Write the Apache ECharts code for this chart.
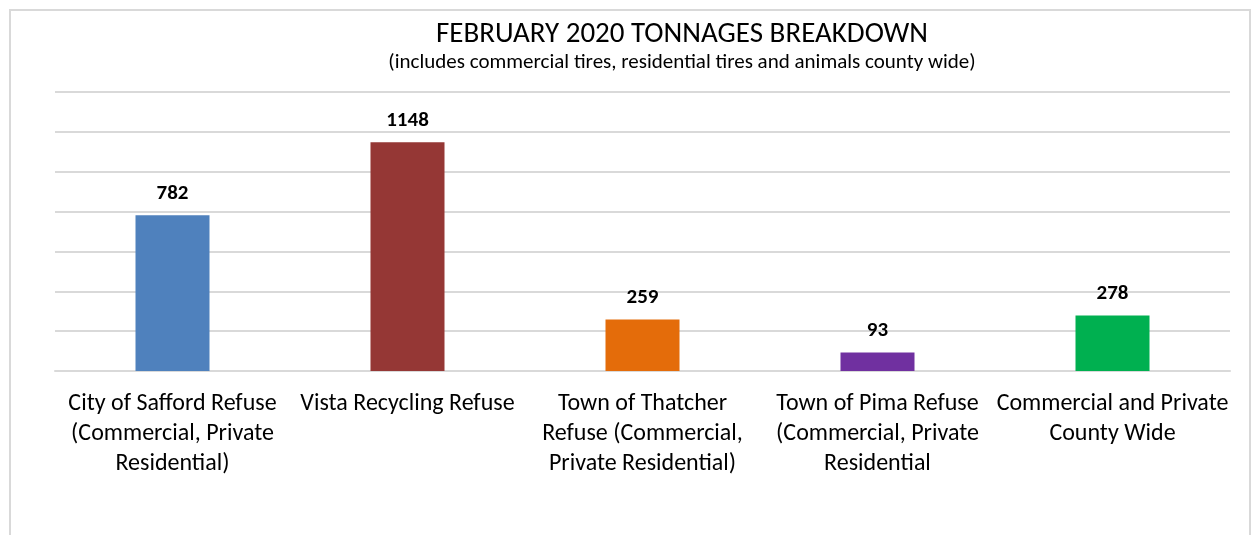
<!DOCTYPE html>
<html>
<head>
<meta charset="utf-8">
<script src="https://cdn.jsdelivr.net/npm/echarts@6/dist/echarts.min.js"></script>
<style>
  html, body { margin: 0; padding: 0; background: #fff; }
  #chart { width: 1256px; height: 535px; }
</style>
</head>
<body>
<div id="chart"></div>
<script>
const categories = [
  'City of Safford Refuse\n(Commercial, Private\nResidential)',
  'Vista Recycling Refuse',
  'Town of Thatcher\nRefuse (Commercial,\nPrivate Residential)',
  'Town of Pima Refuse\n(Commercial, Private\nResidential',
  'Commercial and Private\nCounty Wide'
];
const tonnages = [782, 1148, 259, 93, 278];
const barColors = ['#4F81BD', '#953735', '#E46C0A', '#7030A0', '#00B050'];

var chart = echarts.init(document.getElementById('chart'));

const fontStack = 'Carlito, Calibri, "Liberation Sans", sans-serif';

var option = {
  animation: false,
  title: {
    text: 'FEBRUARY 2020 TONNAGES BREAKDOWN',
    subtext: '(includes commercial tires, residential tires and animals county wide)',
    left: 677,
    top: 15,
    textAlign: 'center',
    itemGap: 3,
    textStyle: { fontFamily: fontStack, fontSize: 29, fontWeight: 'normal', color: '#000' },
    subtextStyle: { fontFamily: fontStack, fontSize: 21, color: '#000' }
  },
  graphic: [
    {
      type: 'polyline',
      shape: { points: [[10, 535], [10, 10], [1250, 10], [1250, 535]] },
      style: { stroke: '#d9d9d9', lineWidth: 2, fill: null },
      silent: true
    }
  ],
  grid: { left: 55, right: 26, top: 92, bottom: 164 },
  xAxis: {
    type: 'category',
    data: categories,
    axisLine: { show: true, lineStyle: { color: '#d9d9d9', width: 2 } },
    axisTick: { show: false },
    axisLabel: {
      interval: 0,
      margin: 18,
      fontFamily: fontStack,
      fontSize: 24,
      lineHeight: 30,
      color: '#000'
    }
  },
  yAxis: {
    type: 'value',
    min: 0,
    max: 1400,
    interval: 200,
    axisLabel: { show: false },
    axisLine: { show: false },
    axisTick: { show: false },
    splitLine: { lineStyle: { color: '#d9d9d9', width: 2 } }
  },
  series: [
    {
      type: 'bar',
      barWidth: 74,
      data: tonnages.map((v, i) => ({ value: v, itemStyle: { color: barColors[i] } })),
      label: {
        show: true,
        position: 'top',
        distance: 11,
        fontFamily: fontStack,
        fontSize: 21,
        fontWeight: 'bold',
        color: '#000'
      }
    }
  ]
};

chart.setOption(option);
</script>
</body>
</html>
